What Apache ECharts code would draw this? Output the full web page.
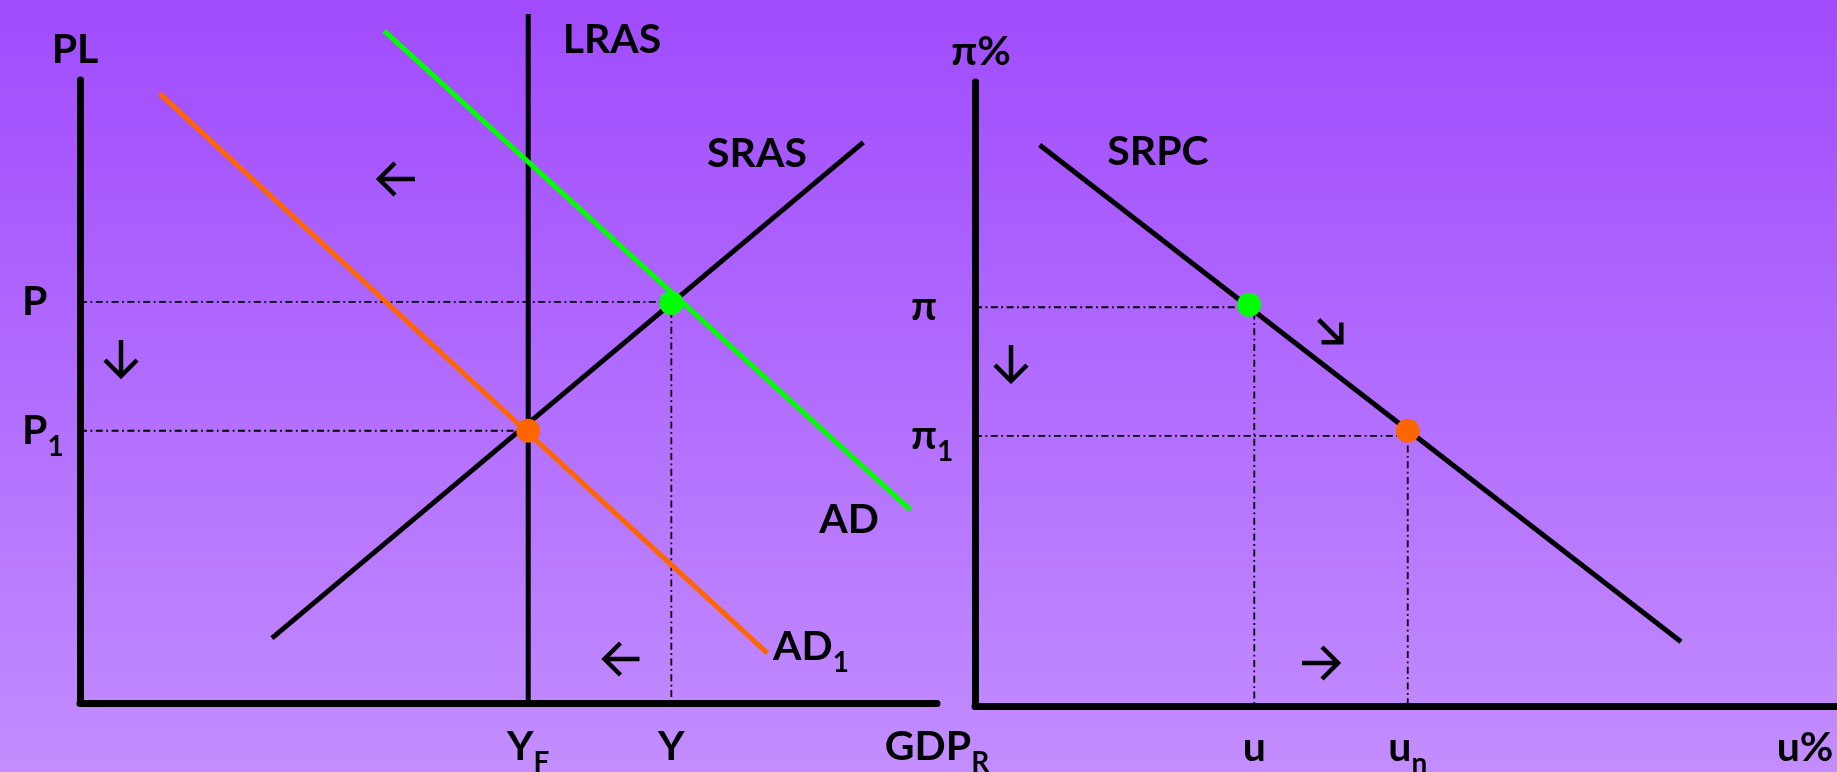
<!DOCTYPE html>
<html>
<head>
<meta charset="utf-8">
<title>AD-AS and Phillips curve</title>
<script src="https://cdn.jsdelivr.net/npm/echarts@6.0.0/dist/echarts.min.js"></script>
<style>
  html, body { margin: 0; padding: 0; }
  #main { width: 1837px; height: 772px; }
</style>
</head>
<body>
<div id="main"></div>
<script>
// 左图 AD-AS，坐标单位 0..100
const adLine = [[35.5, 107.9], [96.9, 31.0]];
const ad1Line = [[9.3, 97.8], [80.2, 8.0]];
const srasLine = [[22.4, 10.4], [91.4, 90.0]];
const lrasLine = [[52.3, 0], [52.3, 110.6]];
const eqStart = [69.0, 64.2];   // 绿色点
const eqEnd = [52.3, 43.7];     // 橙色点
const priceTicks = [64.4, 43.7];
const priceNames = ['P', 'P{s|1}'];
const outputTicks = [52.3, 69.0, 100];
const outputNames = ['Y{s|F}', 'Y', 'GDP{s|R}'];

// 右图 菲利普斯曲线
const srpcLine = [[7.5, 89.9], [81.9, 10.3]];
const pcStart = [31.8, 64.3];
const pcEnd = [50.2, 44.1];
const inflTicks = [63.9, 43.3];
const inflNames = ['π', 'π{s|1}'];
const unempTicks = [32.4, 50.2, 96.3];
const unempNames = ['u', 'u{s|n}', 'u%'];

const FONT = 'Lato, "DejaVu Sans", sans-serif';
const GREEN = '#00ff00';
const ORANGE = '#ff6600';

const subRich = {
  s: { fontFamily: FONT, fontWeight: 'bold', fontSize: 28, color: '#000', padding: [32, 0, 0, 0], lineHeight: 60 }
};

function pick(ticks, names) {
  return function (v) {
    for (let i = 0; i < ticks.length; i++) {
      if (Math.abs(ticks[i] - v) < 0.01) return names[i];
    }
    return '';
  };
}

function axisLabel(ticks, names, extra) {
  return Object.assign({
    customValues: ticks,
    formatter: pick(ticks, names),
    fontFamily: FONT,
    fontWeight: 'bold',
    fontSize: 41,
    color: '#000',
    lineHeight: 60,
    rich: subRich
  }, extra);
}

function axisLine() {
  return { show: true, onZero: false, lineStyle: { color: '#000', width: 7 } };
}

function valueAxis(gridIndex, extra) {
  return Object.assign({
    type: 'value',
    gridIndex: gridIndex,
    min: 0,
    max: 100,
    axisLine: axisLine(),
    axisTick: { show: false },
    splitLine: { show: false }
  }, extra);
}

function curve(data, color, xi) {
  return {
    type: 'line',
    xAxisIndex: xi,
    yAxisIndex: xi,
    data: data,
    symbol: 'none',
    clip: false,
    lineStyle: { color: color, width: 5 },
    z: 3
  };
}

function guide(data, xi) {
  return {
    type: 'line',
    xAxisIndex: xi,
    yAxisIndex: xi,
    data: data,
    symbol: 'none',
    lineStyle: { color: '#000', width: 1.8, type: [7, 3.5, 1.8, 3.5] },
    z: 2
  };
}

function dot(point, color, xi) {
  return {
    type: 'scatter',
    xAxisIndex: xi,
    yAxisIndex: xi,
    data: [point],
    symbolSize: 24,
    itemStyle: { color: color, opacity: 1 },
    z: 5
  };
}

function arrow(x, y, angle, len, head) {
  const st = { stroke: '#000', lineWidth: 4.5, fill: null, lineJoin: 'miter', lineCap: 'butt' };
  return {
    type: 'group', x: x, y: y, rotation: angle,
    children: [
      { type: 'polyline', shape: { points: [[-len / 2, 0], [len / 2 - 2, 0]] }, style: st },
      { type: 'polyline', shape: { points: [[len / 2 - head, -head], [len / 2, 0], [len / 2 - head, head]] }, style: st }
    ]
  };
}

function label(text, x, y, align) {
  return {
    type: 'text', x: x, y: y,
    style: {
      text: text, fill: '#000', fontFamily: FONT, fontWeight: 'bold', fontSize: 41,
      lineHeight: 60, align: align || 'center', verticalAlign: 'middle',
      rich: subRich
    }
  };
}

const myChart = echarts.init(document.getElementById('main'), null, { renderer: 'canvas' });

const option = {
  animation: false,
  backgroundColor: {
    type: 'linear', x: 0, y: 0, x2: 0, y2: 1,
    colorStops: [{ offset: 0, color: '#a04bfd' }, { offset: 1, color: '#c38dff' }]
  },
  grid: [
    { left: 80, top: 80, width: 857, height: 623, outerBoundsMode: 'none' },
    { left: 975, top: 82, width: 862, height: 624, outerBoundsMode: 'none' }
  ],
  xAxis: [
    valueAxis(0, { axisLabel: axisLabel(outputTicks, outputNames, { margin: 14 }) }),
    valueAxis(1, { axisLabel: axisLabel(unempTicks, unempNames, { margin: 12 }) })
  ],
  yAxis: [
    valueAxis(0, {
      name: 'PL', nameLocation: 'end', nameGap: 10,
      nameTextStyle: { fontFamily: FONT, fontWeight: 'bold', fontSize: 41, color: '#000', padding: [0, 10, 0, 0] },
      axisLabel: axisLabel(priceTicks, priceNames, { align: 'left', margin: 58 })
    }),
    valueAxis(1, {
      name: 'π%', nameLocation: 'end', nameGap: 10,
      nameTextStyle: { fontFamily: FONT, fontWeight: 'bold', fontSize: 41, color: '#000', padding: [0, 0, 0, 12] },
      axisLabel: axisLabel(inflTicks, inflNames, { align: 'left', margin: 64 })
    })
  ],
  series: [
    guide([[0, priceTicks[0]], [outputTicks[1], priceTicks[0]], [outputTicks[1], 0]], 0),
    guide([[0, priceTicks[1]], [outputTicks[0], priceTicks[1]]], 0),
    curve(lrasLine, '#000', 0),
    curve(srasLine, '#000', 0),
    curve(adLine, GREEN, 0),
    curve(ad1Line, ORANGE, 0),
    dot(eqStart, GREEN, 0),
    dot(eqEnd, ORANGE, 0),

    guide([[0, inflTicks[0]], [unempTicks[0], inflTicks[0]], [unempTicks[0], 0]], 1),
    guide([[0, inflTicks[1]], [unempTicks[1], inflTicks[1]], [unempTicks[1], 0]], 1),
    curve(srpcLine, '#000', 1),
    dot(pcStart, GREEN, 1),
    dot(pcEnd, ORANGE, 1)
  ],
  graphic: [
    label('LRAS', 612, 40),
    label('SRAS', 757, 154),
    label('AD', 849, 520),
    label('AD{s|1}', 773, 647, 'left'),
    label('SRPC', 1158, 152),
    arrow(397, 179, Math.PI, 36, 16),
    arrow(121, 358, -Math.PI / 2, 36, 16),
    arrow(622, 659, Math.PI, 35, 16),
    arrow(1011, 363, -Math.PI / 2, 36, 16),
    arrow(1330, 331, -Math.PI / 4, 32, 14),
    arrow(1320, 663, 0, 36, 16)
  ]
};

myChart.setOption(option);
</script>
</body>
</html>
